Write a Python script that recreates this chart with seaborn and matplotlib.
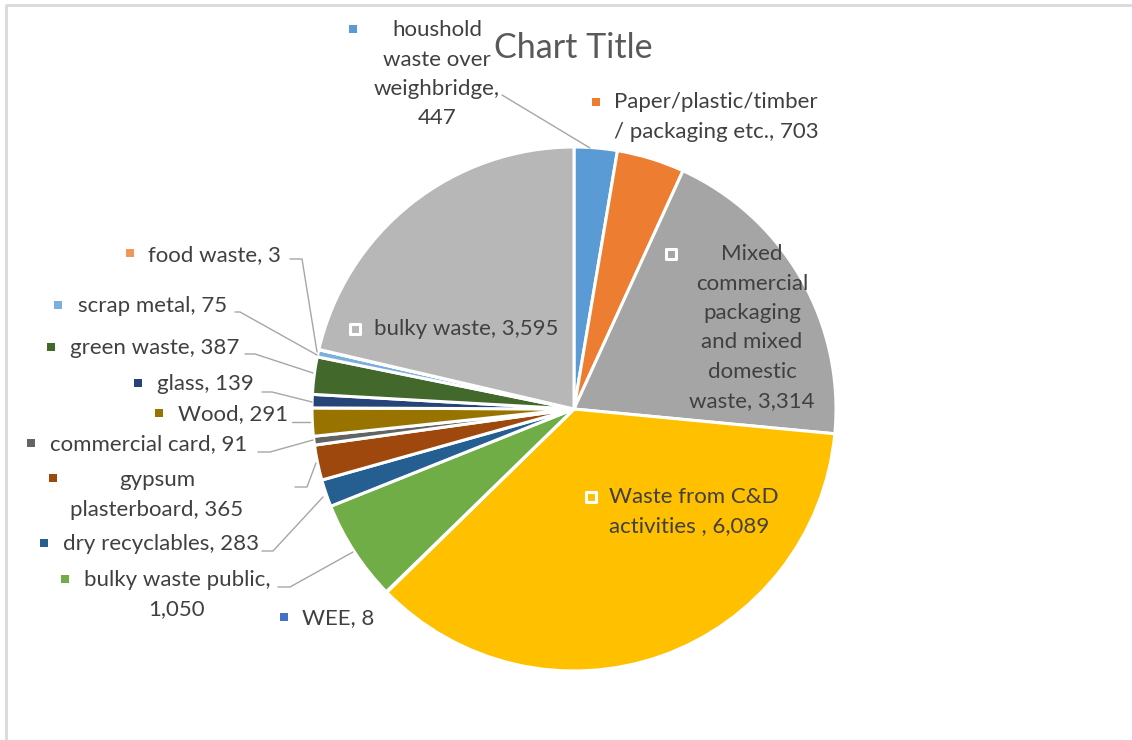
import matplotlib
matplotlib.use("Agg")
import matplotlib.pyplot as plt
from matplotlib.lines import Line2D
import seaborn as sns

sns.set_theme(style="white")
plt.rcParams['font.family'] = ['Lato', 'DejaVu Sans']

# ---- data (clockwise from 12 o'clock) ----
categories = [
    "houshold waste over weighbridge", "Paper/plastic/timber / packaging etc.",
    "Mixed commercial packaging and mixed domestic waste", "Waste from C&D activities ",
    "WEE", "bulky waste public", "dry recyclables", "gypsum plasterboard",
    "commercial card", "Wood", "glass", "green waste", "scrap metal",
    "food waste", "bulky waste",
]
values = [447, 703, 3314, 6089, 8, 1050, 283, 365, 91, 291, 139, 387, 75, 3, 3595]
colors = ["#5B9BD5", "#ED7D31", "#A5A5A5", "#FFC000", "#4472C4", "#70AD47",
          "#255E91", "#9E480E", "#636363", "#997300", "#264478", "#43682B",
          "#7CAFDD", "#F1975A", "#B7B7B7"]
# label text lines (as wrapped in the chart)
label_lines = [
    ["houshold", "waste over", "weighbridge,", "447"],
    ["Paper/plastic/timber", "/ packaging etc., 703"],
    ["Mixed", "commercial", "packaging", "and mixed", "domestic", "waste, 3,314"],
    ["Waste from C&D", "activities , 6,089"],
    ["WEE, 8"],
    ["bulky waste public,", "1,050"],
    ["dry recyclables, 283"],
    ["gypsum", "plasterboard, 365"],
    ["commercial card, 91"],
    ["Wood, 291"],
    ["glass, 139"],
    ["green waste, 387"],
    ["scrap metal, 75"],
    ["food waste, 3"],
    ["bulky waste, 3,595"],
]
title = "Chart Title"

# ---- layout (pixel positions in the 1132x740 image) ----
W, H = 1132, 740
CX, CY, R = 574, 409, 262

def P(x, y):
    """pixel (from top-left) -> data coords (pie radius = 1)"""
    return (x - CX) / R, (CY - y) / R

# per label: (text x, first line y, marker x, marker y, inside?, align)
label_pos = [
    (437, 30, 353, 29, False, "center"),
    (614, 102, 596, 102, False, "left"),
    (752, 254, 671, 254, True, "center"),
    (609, 497, 591, 497, True, "left"),
    (302, 618, 284, 617, False, "left"),
    (84, 580, 65, 579, False, "left"),
    (63, 544, 44, 543, False, "left"),
    (157, 480, 53, 478, False, "center"),
    (50, 444, 31, 443, False, "left"),
    (178, 414, 159, 413, False, "left"),
    (157, 384, 138, 383, False, "left"),
    (70, 348, 51, 347, False, "left"),
    (78, 306, 58, 305, False, "left"),
    (148, 255, 130, 253, False, "left"),
    (374, 329, 355, 329, True, "left"),
]
extra_line_x = {5: 177}  # centred second line for bulky waste public
leaders = {
    0: [(502, 95), (590, 148)],
    11: [(245, 354), (255, 354), (313, 373)],
    12: [(235, 312), (240, 312), (317, 355)],
    13: [(290, 259), (302, 259), (317, 352)],
    10: [(262, 392), (272, 392), (312, 402)],
    9: [(292, 422), (310, 422)],
    8: [(258, 452), (270, 452), (313, 440)],
    7: [(295, 487), (307, 487), (316, 463)],
    6: [(262, 551), (273, 551), (323, 497)],
    5: [(278, 587), (290, 587), (353, 552)],
}
LINE_H = 29.5
FS = 16
TXT = "#404040"

fig = plt.figure(figsize=(W / 100, H / 100), dpi=100)
ax = fig.add_axes([0, 0, 1, 1])
ax.pie(values, colors=colors, startangle=90, counterclock=False,
       radius=1, center=(0, 0),
       wedgeprops=dict(edgecolor="white", linewidth=2.2))
x0, y1 = P(0, 0)
x1, y0 = P(W, H)
ax.set_xlim(x0, x1)
ax.set_ylim(y0, y1)
ax.set_aspect("auto")
ax.axis("off")

# title
tx, ty = P(573, 48)
ax.text(tx, ty, title, ha="center", va="center", fontsize=24.5, color="#595959")

# leaders
for i, pts in leaders.items():
    xs, ys = zip(*[P(*p) for p in pts])
    ax.plot(xs, ys, color="#A6A6A6", lw=1.0, zorder=1)

# labels
for i, (lines, (lx, ly, mx, my, inside, align)) in enumerate(zip(label_lines, label_pos)):
    for k, line in enumerate(lines):
        x = lx
        ha = align
        if k > 0 and i in extra_line_x:
            x, ha = extra_line_x[i], "center"
        px, py = P(x, ly + k * LINE_H)
        ax.text(px, py, line, ha=ha, va="center", fontsize=FS, color=TXT, zorder=5)
    mpx, mpy = P(mx, my)
    if inside:
        ax.scatter([mpx], [mpy], marker="s", s=60, facecolor=colors[i],
                   edgecolor="white", linewidth=2.2, zorder=6)
    else:
        ax.scatter([mpx], [mpy], marker="s", s=30, facecolor=colors[i],
                   edgecolor="none", zorder=6)

# chart frame edges visible in the screenshot
fig.add_artist(Line2D([6 / W, 6 / W], [0, 1 - 6 / H], transform=fig.transFigure,
                      color="#D9D9D9", lw=2))
fig.add_artist(Line2D([6 / W, 1], [1 - 5 / H, 1 - 5 / H], transform=fig.transFigure,
                      color="#D9D9D9", lw=2))

fig.savefig("out.png", dpi=100, facecolor="white")
